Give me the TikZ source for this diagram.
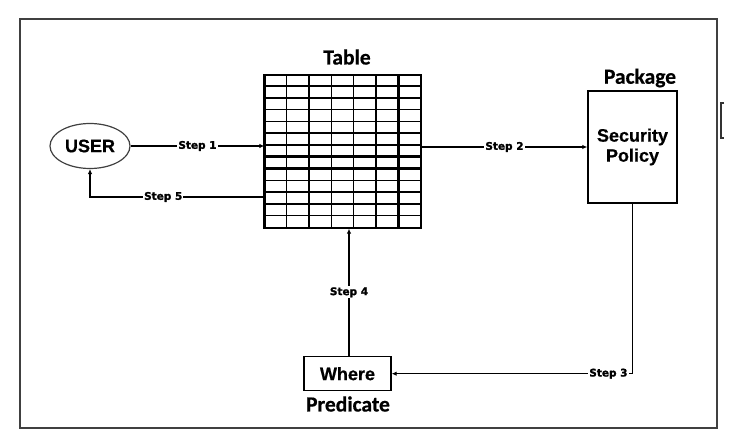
\documentclass[tikz,border=0pt]{standalone}
\usepackage{fontspec}
\setmainfont{Liberation Sans}[BoldFeatures={FakeBold=0.6}]
\newfontfamily\calfont{Carlito}[BoldFeatures={FakeBold=0.6}]
\newfontfamily\stepfont{DejaVu Sans}[BoldFeatures={FakeBold=1.6}]
\usepackage{tikz}
\usetikzlibrary{shapes.geometric, arrows.meta, positioning, calc}
\tikzset{
  userbox/.style={
    ellipse, draw, line width=1.2pt, color=black!75, text=black,
    minimum width=80pt, minimum height=45pt, inner sep=0pt,
    font=\fontsize{18}{20}\selectfont\bfseries
  },
  policybox/.style={
    draw, line width=1.4pt, align=center, inner sep=0pt,
    minimum width=89pt, minimum height=112pt,
    font=\fontsize{18}{20}\selectfont\bfseries
  },
  wherebox/.style={
    draw, line width=1.4pt, inner sep=0pt,
    minimum width=87pt, minimum height=34pt,
    font=\fontsize{18}{20}\selectfont\bfseries
  },
  tablebox/.style={draw, line width=1.3pt, inner sep=0pt, minimum width=156pt, minimum height=153pt},
  captionlabel/.style={font=\calfont\fontsize{21.5}{23}\selectfont\bfseries, inner sep=0pt},
  steparrow/.style={-{Latex[length=5pt, width=4.5pt]}, line width=1.4pt},
  steplabel/.style={fill=white, inner sep=1pt, font=\stepfont\fontsize{10.5}{12}\selectfont\bfseries},
  gridline/.style={line width=1.4pt},
  gridthick/.style={line width=3pt},
}

\begin{document}
\begin{tikzpicture}[x=1pt, y=-1pt]
  \useasboundingbox (0,0) rectangle (740,446);
  % Frame
  \draw[line width=2pt, black!75] (20,19) rectangle (717,428);
  \draw[line width=1.5pt, black!80] (724,103) -- (721,103) -- (721,138) -- (724,138);

  % Blocks
  \node[userbox] (user) at (90,146) {USER};
  \node[tablebox] (tbl) at (343,151.5) {};
  \node[policybox] (pkg) at (632.5,147) {Security\\Policy};
  \node[wherebox] (where) at (347.5,373.7) {Where};

  % Captions
  \node[captionlabel] (tbltitle) at (347,57) {Table};
  \node[captionlabel] (pkgtitle) at (640,78) {Package};
  \node[captionlabel] (wheretitle) at (348,404) {Predicate};

  % Table grid
  \foreach \i in {1,...,6} {
    \draw[gridline] ($(tbl.north west)+(\i*22.29,0)$) -- ($(tbl.south west)+(\i*22.29,0)$);
  }
  \foreach \j in {1,...,12} {
    \draw[gridline] ($(tbl.north west)+(0,\j*11.77)$) -- ($(tbl.north east)+(0,\j*11.77)$);
  }
  \draw[gridthick] (tbl.north west) -- (tbl.south west);
  \draw[gridthick] ($(tbl.north west)+(6*22.29,0)$) -- ($(tbl.south west)+(6*22.29,0)$);
  \draw[gridthick] ($(tbl.north west)+(0,7*11.77)$) -- ($(tbl.north east)+(0,7*11.77)$);
  \draw[gridthick] ($(tbl.north west)+(0,8*11.77)$) -- ($(tbl.north east)+(0,8*11.77)$);

  % Steps
  \coordinate (back) at ($(tbl.west)+(0,45.5)$);
  \draw[steparrow] (user.east) -- node[steplabel] {Step 1} (user.east -| tbl.west);
  \draw[steparrow] (pkg.west -| tbl.east) -- node[steplabel] {Step 2} (pkg.west);
  \draw[steparrow] (pkg.south) |- node[steplabel, pos=0.55] {Step 3} (where.east);
  \draw[steparrow] ([xshift=1.5pt]where.north) -- node[steplabel] {Step 4} ([xshift=1.5pt]where.north |- tbl.south);
  \draw[steparrow] (back) -| node[steplabel, pos=0.29] {Step 5} (user.south);
\end{tikzpicture}
\end{document}
